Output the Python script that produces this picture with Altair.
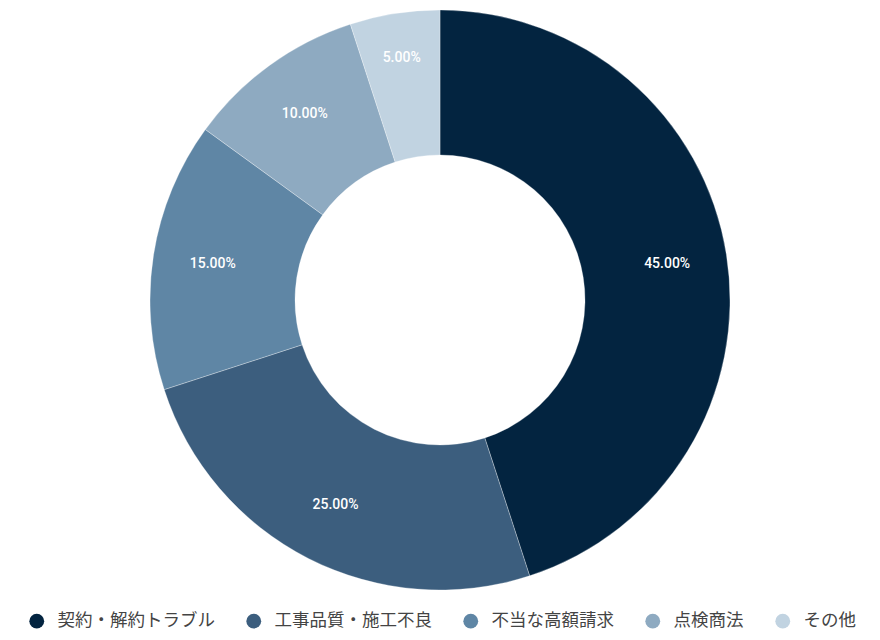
import altair as alt
import pandas as pd

categories = ["契約・解約トラブル", "工事品質・施工不良", "不当な高額請求", "点検商法", "その他"]
values = [45, 25, 15, 10, 5]
colors = ["#032440", "#3c5e7e", "#5f86a5", "#8eaac1", "#c1d3e1"]

df = pd.DataFrame({
    "category": categories,
    "value": values,
    "order": list(range(len(categories))),
})
df["label"] = [f"{v:.2f}%" for v in values]

color_scale = alt.Scale(domain=categories, range=colors)

arcs = alt.Chart(df).mark_arc(outerRadius=290, innerRadius=145, stroke="#ffffff", strokeWidth=0.3).encode(
    theta=alt.Theta("value:Q", stack=True),
    order=alt.Order("order:Q"),
    color=alt.Color(
        "category:N",
        scale=color_scale,
        sort=categories,
        legend=alt.Legend(
            title=None,
            orient="none",
            legendX=20,
            legendY=604,
            direction="horizontal",
            symbolType="circle",
            symbolSize=220,
            symbolStrokeWidth=0,
            labelFont="Noto Sans CJK JP",
            labelFontSize=17.5,
            labelColor="#444444",
            labelOffset=12,
            columnPadding=30,
            labelLimit=300,
        ),
    ),
)

text_base = alt.Chart(df).transform_window(
    cum="sum(value)", sort=[alt.SortField("order")], frame=[None, 0]
).transform_joinaggregate(
    total="sum(value)"
).transform_calculate(
    mid="(datum.cum - datum.value / 2) / datum.total * 100"
).encode(
    theta=alt.Theta("mid:Q", stack=None, scale=alt.Scale(domain=[0, 100])),
    text="label:N",
)

text_main = text_base.transform_filter("datum.value >= 8").mark_text(
    radius=230, font="Roboto", fontSize=14, fontWeight=500, color="#ffffff"
)
text_small = text_base.transform_filter("datum.value < 8").mark_text(
    radius=245, font="Roboto", fontSize=14, fontWeight=500, color="#ffffff"
)

chart = (arcs + text_main + text_small).properties(
    width=864, height=584, padding=0
).configure_view(stroke=None)

chart.save("out.html", embed_options={"renderer": "svg", "actions": False})
